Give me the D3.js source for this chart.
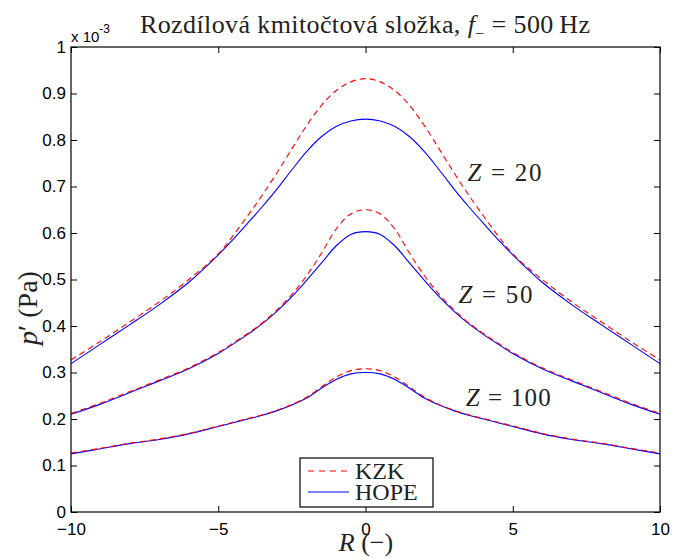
<!DOCTYPE html>
<html>
<head>
<meta charset="utf-8">
<script src="https://cdn.jsdelivr.net/npm/d3@7/dist/d3.min.js"></script>
<style>
  body { margin: 0; background: #fff; }
  svg { display: block; }
</style>
</head>
<body>
<svg id="chart" width="673" height="558"></svg>
<script>
// ---- data (p' in units of 1e-3 Pa) ----
const R = [-10,-9,-8,-7,-6,-5,-4.5,-4,-3.5,-3,-2.5,-2,-1.5,-1,-0.5,0,0.5,1,1.5,2,2.5,3,3.5,4,4.5,5,6,7,8,9,10];

const kzk20  = [0.327,0.367,0.409,0.452,0.500,0.555,0.594,0.637,0.682,0.730,0.781,0.831,0.874,0.906,0.925,0.932,0.925,0.906,0.874,0.831,0.781,0.730,0.682,0.637,0.594,0.555,0.500,0.452,0.409,0.367,0.327];
const hope20 = [0.319,0.361,0.403,0.446,0.494,0.553,0.586,0.621,0.657,0.695,0.736,0.775,0.807,0.829,0.841,0.845,0.841,0.829,0.807,0.775,0.736,0.695,0.657,0.621,0.586,0.553,0.494,0.446,0.403,0.361,0.319];

const kzk50  = [0.212,0.234,0.259,0.284,0.310,0.343,0.363,0.384,0.407,0.435,0.468,0.508,0.556,0.608,0.641,0.650,0.641,0.608,0.556,0.508,0.468,0.435,0.407,0.384,0.363,0.343,0.310,0.284,0.259,0.234,0.212];
const hope50 = [0.210,0.232,0.257,0.282,0.308,0.341,0.361,0.382,0.405,0.432,0.463,0.498,0.535,0.572,0.597,0.603,0.597,0.572,0.535,0.498,0.463,0.432,0.405,0.382,0.361,0.341,0.308,0.282,0.257,0.232,0.210];

const kzk100  = [0.127,0.137,0.148,0.157,0.169,0.185,0.193,0.201,0.209,0.219,0.231,0.247,0.269,0.290,0.304,0.308,0.304,0.290,0.269,0.247,0.231,0.219,0.209,0.201,0.193,0.185,0.169,0.157,0.148,0.137,0.127];
const hope100 = [0.125,0.136,0.147,0.156,0.168,0.184,0.192,0.200,0.208,0.218,0.230,0.245,0.266,0.285,0.297,0.300,0.297,0.285,0.266,0.245,0.230,0.218,0.208,0.200,0.192,0.184,0.168,0.156,0.147,0.136,0.125];

const xTicks = [-10,-5,0,5,10];
const yTicks = [0,0.1,0.2,0.3,0.4,0.5,0.6,0.7,0.8,0.9,1];
const seriesNames = ["KZK","HOPE"];
const zLabels = [
  {z:"20",  R:3.46, v:0.712},
  {z:"50",  R:3.16, v:0.449},
  {z:"100", R:3.40, v:0.228}
];

// ---- layout ----
const svg = d3.select("#chart");
const L = 71, Rt = 660, T = 47, B = 512;
const x = d3.scaleLinear().domain([-10,10]).range([L,Rt]);
const y = d3.scaleLinear().domain([0,1]).range([B,T]);

const sans = "'Liberation Sans', Arial, Helvetica, sans-serif";
const serif = "'Liberation Serif', 'Times New Roman', serif";

// curves
const line = d3.line().x((d,i)=>x(R[i])).y(d=>y(d)).curve(d3.curveCatmullRom.alpha(0.5));
const g = svg.append("g");
[hope20,hope50,hope100].forEach(s=>{
  g.append("path").attr("d",line(s)).attr("fill","none").attr("stroke","#0000ff").attr("stroke-width",1.1);
});
[kzk20,kzk50,kzk100].forEach(s=>{
  g.append("path").attr("d",line(s)).attr("fill","none").attr("stroke","#ff0000").attr("stroke-width",1.1).attr("stroke-dasharray","6,4");
});

// axes with inward ticks on all sides
const tl = 6;
svg.append("g").attr("transform",`translate(0,${B})`)
  .call(d3.axisBottom(x).tickValues(xTicks).tickSize(-tl).tickPadding(11).tickFormat(d=>d<0?"\u2212"+Math.abs(d):d))
  .call(a=>{a.select(".domain").remove(); a.selectAll("text").attr("font-family",sans).attr("font-size",17).attr("fill","#000");});
svg.append("g").attr("transform",`translate(0,${T})`)
  .call(d3.axisTop(x).tickValues(xTicks).tickSize(-tl).tickFormat(""))
  .call(a=>a.select(".domain").remove());
svg.append("g").attr("transform",`translate(${L},0)`)
  .call(d3.axisLeft(y).tickValues(yTicks).tickSize(-tl).tickPadding(5).tickFormat(d=>d3.format("")(+d.toFixed(1))))
  .call(a=>{a.select(".domain").remove(); a.selectAll("text").attr("font-family",sans).attr("font-size",17).attr("fill","#000");});
svg.append("g").attr("transform",`translate(${Rt},0)`)
  .call(d3.axisRight(y).tickValues(yTicks).tickSize(-tl).tickFormat(""))
  .call(a=>a.select(".domain").remove());
svg.selectAll(".tick line").attr("stroke","#000");
svg.append("rect").attr("x",L).attr("y",T).attr("width",Rt-L).attr("height",B-T)
  .attr("fill","none").attr("stroke","#000").attr("stroke-width",1.2);

// exponent label
const ex = svg.append("text").attr("x",71).attr("y",42).attr("font-family",sans).attr("font-size",15).attr("fill","#000");
ex.append("tspan").text("x 10");
ex.append("tspan").attr("dy",-9).attr("font-size",12).text("-3");

// title
const tt = svg.append("text").attr("x",140).attr("y",33).attr("font-family",serif).attr("font-size",26).attr("fill","#222")
  .attr("textLength",450).attr("lengthAdjust","spacing");
tt.append("tspan").text("Rozdílová kmitočtová složka, ");
tt.append("tspan").attr("font-style","italic").text("f");
tt.append("tspan").attr("dy",6).attr("font-size",16).text("\u2212");
tt.append("tspan").attr("dy",-6).text(" = 500\u2009Hz");

// axis labels
const xl = svg.append("text").attr("x",366).attr("y",551).attr("text-anchor","middle").attr("font-family",serif).attr("font-size",26).attr("fill","#222");
xl.append("tspan").attr("font-style","italic").text("R");
xl.append("tspan").text("\u00a0(\u2212)");

const yl = svg.append("text").attr("transform","translate(37,308) rotate(-90)").attr("text-anchor","middle").attr("font-family",serif).attr("font-size",28).attr("fill","#222");
yl.append("tspan").attr("font-style","italic").text("p");
yl.append("tspan").text("\u2032\u00a0(Pa)");

// Z labels
zLabels.forEach(d=>{
  const t = svg.append("text").attr("x",x(d.R)).attr("y",y(d.v)).attr("font-family",serif).attr("font-size",25).attr("fill","#222")
    .attr("textLength", d.z.length===3?85:74).attr("lengthAdjust","spacing");
  t.append("tspan").attr("font-style","italic").text("Z");
  t.append("tspan").text(" = "+d.z);
});

// legend
const lg = svg.append("g");
lg.append("rect").attr("x",300).attr("y",458).attr("width",133).attr("height",49).attr("fill","#fff").attr("stroke","#000").attr("stroke-width",1.2);
seriesNames.forEach((n,i)=>{
  const yy = 471 + i*21;
  lg.append("line").attr("x1",308).attr("x2",349).attr("y1",yy).attr("y2",yy)
    .attr("stroke", i===0?"#ff0000":"#0000ff").attr("stroke-width",1.1)
    .attr("stroke-dasharray", i===0?"6,5":null);
  lg.append("text").attr("x",355).attr("y",yy+8).attr("font-family",serif).attr("font-size",24).attr("fill","#222").text(n);
});
</script>
</body>
</html>
